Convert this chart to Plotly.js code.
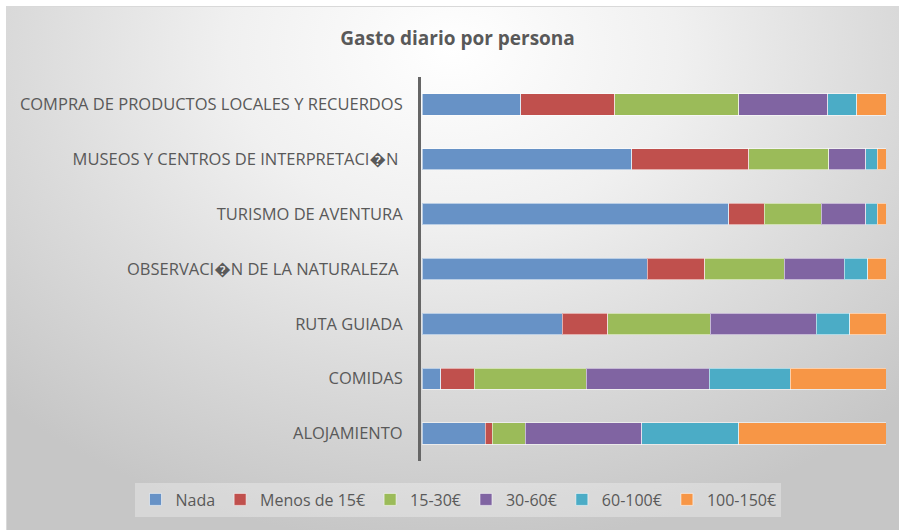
<!DOCTYPE html>
<html>
<head>
<meta charset="utf-8">
<script src="https://cdn.plot.ly/plotly-3.0.1.min.js"></script>
<style>
  html, body { margin: 0; padding: 0; background: #ffffff; }
  #wrap { position: relative; width: 899px; height: 530px; overflow: hidden; }
  #bg { position: absolute; left: 6px; top: 6px; right: 0; bottom: 0;
        background: radial-gradient(ellipse 72% 95% at 50% 8%, #ffffff 0%, #f0f0f0 35%, #dcdcdc 65%, #c6c6c6 100%);
        border-top: 1px solid #d9d9d9; border-left: 1px solid #d9d9d9; }
  #chart { position: absolute; left: 0; top: 0; width: 899px; height: 530px; }
</style>
</head>
<body>
<div id="wrap"><div id="bg"></div><div id="chart"></div></div>
<script>
// Categories, bottom to top
const categories = [
  "ALOJAMIENTO",
  "COMIDAS",
  "RUTA GUIADA",
  "OBSERVACI\uFFFDN DE LA NATURALEZA ",
  "TURISMO DE AVENTURA",
  "MUSEOS Y CENTROS DE INTERPRETACI\uFFFDN ",
  "COMPRA DE PRODUCTOS LOCALES Y RECUERDOS"
];
const seriesNames = ["Nada", "Menos de 15€", "15-30€", "30-60€", "60-100€", "100-150€"];
// Percent shares (same order as categories)
const nada      = [13.5,  4.0, 30.2, 48.5, 66.0, 45.1, 21.2];
const menos15   = [ 1.5,  7.2,  9.8, 12.3,  7.7, 25.2, 20.3];
const de15a30   = [ 7.2, 24.1, 22.1, 17.2, 12.3, 17.2, 26.7];
const de30a60   = [25.1, 26.4, 22.8, 12.9,  9.5,  7.9, 19.1];
const de60a100  = [20.9, 17.5,  7.3,  5.1,  2.5,  2.5,  6.3];
const de100a150 = [31.7, 20.6,  7.8,  3.9,  1.9,  1.9,  6.3];

const values = [nada, menos15, de15a30, de30a60, de60a100, de100a150];
const colors = ["#6792C6", "#C0504D", "#9BBB59", "#8064A2", "#4BACC6", "#F79646"];

const traces = seriesNames.map((name, i) => ({
  type: "bar",
  orientation: "h",
  name: name,
  y: categories,
  x: values[i],
  marker: { color: colors[i], line: { color: "rgba(255,255,255,0.55)", width: 1 } },
  hoverinfo: "name+x"
}));

const layout = {
  width: 899,
  height: 530,
  paper_bgcolor: "rgba(0,0,0,0)",
  plot_bgcolor: "rgba(0,0,0,0)",
  barmode: "stack",
  barnorm: "percent",
  bargap: 0.61,
  margin: { l: 421, r: 13, t: 77, b: 69, pad: 0, autoexpand: false },
  font: { family: "'Open Sans', 'Noto Sans', sans-serif", color: "#595959", size: 16.5 },
  title: {
    text: "<b>Gasto diario por persona</b>",
    font: { family: "'Open Sans', sans-serif", size: 19, color: "#595959" },
    x: 0.509, xanchor: "center", y: 0.928, yanchor: "middle"
  },
  xaxis: {
    range: [-0.3, 100],
    showgrid: false, zeroline: false, showline: false,
    showticklabels: false, ticks: ""
  },
  yaxis: {
    type: "category",
    showgrid: false, zeroline: false,
    showline: true, linecolor: "#666666", linewidth: 3,
    ticks: "", ticklabelstandoff: 12,
    tickfont: { size: 16.5, color: "#595959" },
    automargin: false
  },
  legend: {
    orientation: "h",
    x: -0.614, xanchor: "left",
    y: -0.056, yanchor: "top",
    bgcolor: "rgba(255,255,255,0.3)",
    font: { size: 16, color: "#595959" },
    traceorder: "normal",
    itemclick: false
  },
  showlegend: true
};

Plotly.newPlot("chart", traces, layout, { displayModeBar: false, staticPlot: true });
</script>
</body>
</html>
